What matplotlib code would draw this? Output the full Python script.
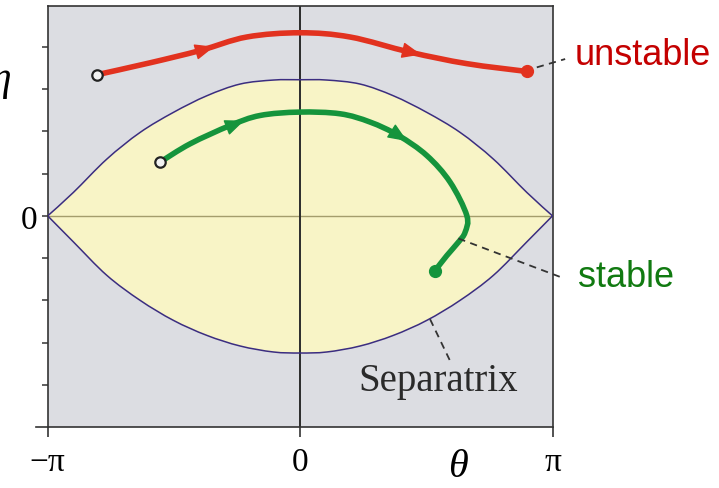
import numpy as np
import matplotlib.pyplot as plt
from matplotlib.path import Path
from matplotlib.patches import PathPatch

# separatrix (left half mirrored to the right)
sep_theta = [-3.1416, -2.822, -2.406, -1.991, -1.577, -1.161, -0.747, -0.332, 0.0,
             0.332, 0.747, 1.161, 1.577, 1.991, 2.406, 2.822, 3.1416]
sep_upper = [0.0, 0.554, 1.342, 1.974, 2.447, 2.840, 3.117, 3.212, 3.219,
             3.212, 3.117, 2.840, 2.447, 1.974, 1.342, 0.554, 0.0]
sep_lower = [0.0, -0.615, -1.406, -1.998, -2.471, -2.826, -3.077, -3.219, -3.243,
             -3.219, -3.077, -2.826, -2.471, -1.998, -1.406, -0.615, 0.0]

# unstable trajectory (red)
red_theta = [-2.531, -1.867, -1.245, -0.663, 0.0, 0.622, 1.369, 2.075, 2.822]
red_eta = [3.337, 3.62, 3.91, 4.23, 4.33, 4.23, 3.87, 3.60, 3.415]
red_arrows = [((-1.344, 3.851), (-1.071, 4.0)), ((1.27, 3.92), (1.506, 3.815))]

# stable trajectory (green)
green_theta = [-1.743, -1.369, -0.871, -0.498, -0.009, 0.498, 0.871, 1.224, 1.577,
               1.867, 2.075, 2.054, 1.970, 1.826, 1.680]
green_eta = [1.271, 1.704, 2.137, 2.374, 2.454, 2.414, 2.218, 1.901, 1.427,
             0.798, 0.007, -0.386, -0.622, -0.940, -1.295]
green_arrows = [((-0.934, 2.076), (-0.697, 2.253)), ((1.120, 2.028), (1.332, 1.768))]

xtick_vals = [-np.pi, 0, np.pi]
xtick_labels = ['\u2212\u03c0', '0', '\u03c0']

serif = 'Liberation Serif'
sans = 'Liberation Sans'
grey_bg = '#dcdde2'
yellow = '#f8f4c6'
sep_color = '#3b2d80'
red = '#e2321f'
green = '#15943c'


def smooth_path(xs, ys):
    """Catmull-Rom curve through the points, as bezier segments"""
    p = np.column_stack([xs, ys]).astype(float)
    verts = [p[0]]
    codes = [Path.MOVETO]
    n = len(p)
    for i in range(n - 1):
        p0 = p[i - 1] if i > 0 else p[i]
        p3 = p[i + 2] if i + 2 < n else p[i + 1]
        c1 = p[i] + (p[i + 1] - p0) / 6
        c2 = p[i + 1] - (p3 - p[i]) / 6
        verts += [c1, c2, p[i + 1]]
        codes += [Path.CURVE4] * 3
    return verts, codes


fig = plt.figure(figsize=(7.19, 4.89), dpi=100)
ax = fig.add_axes([47.7 / 719, 60.7 / 489, 504.8 / 719, 421.3 / 489])
ax.set_facecolor(grey_bg)
ax.set_xlim(-np.pi, np.pi)
ax.set_ylim(-5, 4.963)

# yellow region inside the separatrix
vu, cu = smooth_path(sep_theta, sep_upper)
vl, cl = smooth_path(sep_theta[::-1], sep_lower[::-1])
cl_fill = [Path.LINETO] + cl[1:]
ax.add_patch(PathPatch(Path(vu + vl, cu + cl_fill), facecolor=yellow, lw=0, zorder=1))
ax.add_patch(PathPatch(Path(vu, cu), fill=False, edgecolor=sep_color, lw=1.1, zorder=3))
ax.add_patch(PathPatch(Path(vl, cl), fill=False, edgecolor=sep_color, lw=1.1, zorder=3))
ax.axhline(0, color='#a49d6c', lw=1.0, zorder=2)
ax.axvline(0, color='#2b2b2b', lw=1.4, zorder=2)


def trajectory(th, et, arrows, col):
    v, c = smooth_path(th, et)
    ax.add_patch(PathPatch(Path(v, c), fill=False, edgecolor=col, lw=4.0,
                           capstyle='round', zorder=5))
    for tail, tip in arrows:
        ax.annotate('', xy=tip, xytext=tail,
                    arrowprops=dict(arrowstyle='-|>,head_length=1.2,head_width=0.5',
                                    mutation_scale=10, color=col, lw=1,
                                    shrinkA=0, shrinkB=0), zorder=6)
    ax.plot(th[0], et[0], 'o', ms=7.5, mfc='#f2f2f2', mec='#222222', mew=1.6, zorder=7)
    ax.plot(th[-1], et[-1], 'o', ms=8.5, color=col, zorder=7)


trajectory(red_theta, red_eta, red_arrows, red)
trajectory(green_theta, green_eta, green_arrows, green)

# dashed leader lines
dash = dict(color='#333333', lw=1.3, ls=(0, (4, 3)), clip_on=False, zorder=8)
ax.plot([2.946, 3.299], [3.512, 3.709], **dash)
ax.plot([1.970, 3.257], [-0.535, -1.458], **dash)
ax.plot([1.618, 1.867], [-2.445, -3.43], **dash)

ax.text(3.423, 3.59, 'unstable', color='#c40000', fontsize=26, family=sans,
        va='baseline', ha='left', clip_on=False)
ax.text(3.460, -1.657, 'stable', color='#117a11', fontsize=26, family=sans,
        va='baseline', ha='left', clip_on=False)
ax.text(0.72, -4.125, 'Separatrix', color='#2a2a2a', fontsize=28, family=serif,
        va='baseline', ha='left')

# axes styling
for s in ax.spines.values():
    s.set_color('#333333')
    s.set_linewidth(1.2)
ax.set_xticks(xtick_vals)
ax.set_xticklabels(xtick_labels, family=serif, fontsize=24)
ax.set_yticks(range(-4, 5))
ax.set_yticklabels(['0' if v == 0 else '' for v in range(-4, 5)], family=serif, fontsize=24)
ax.tick_params(axis='x', direction='out', length=7.5, width=1.2, color='#333333', pad=6)
ax.tick_params(axis='y', direction='out', length=4.5, width=1.2, color='#444444', pad=3)
ax.plot([-0.023, 0], [0, 0], transform=ax.transAxes, color='#333333', lw=1.2, clip_on=False)

fig.text(458 / 719, 1 - 468 / 489, '\u03b8', family=serif, style='italic', fontsize=29,
         ha='center', va='center')
# eta label sits mostly off the left edge, as in the original
fig.text(1 / 719, 1 - 80 / 489, '\u03b7', family=serif, style='italic', fontsize=30,
         ha='center', va='center')

fig.savefig('out.png', dpi=100)
